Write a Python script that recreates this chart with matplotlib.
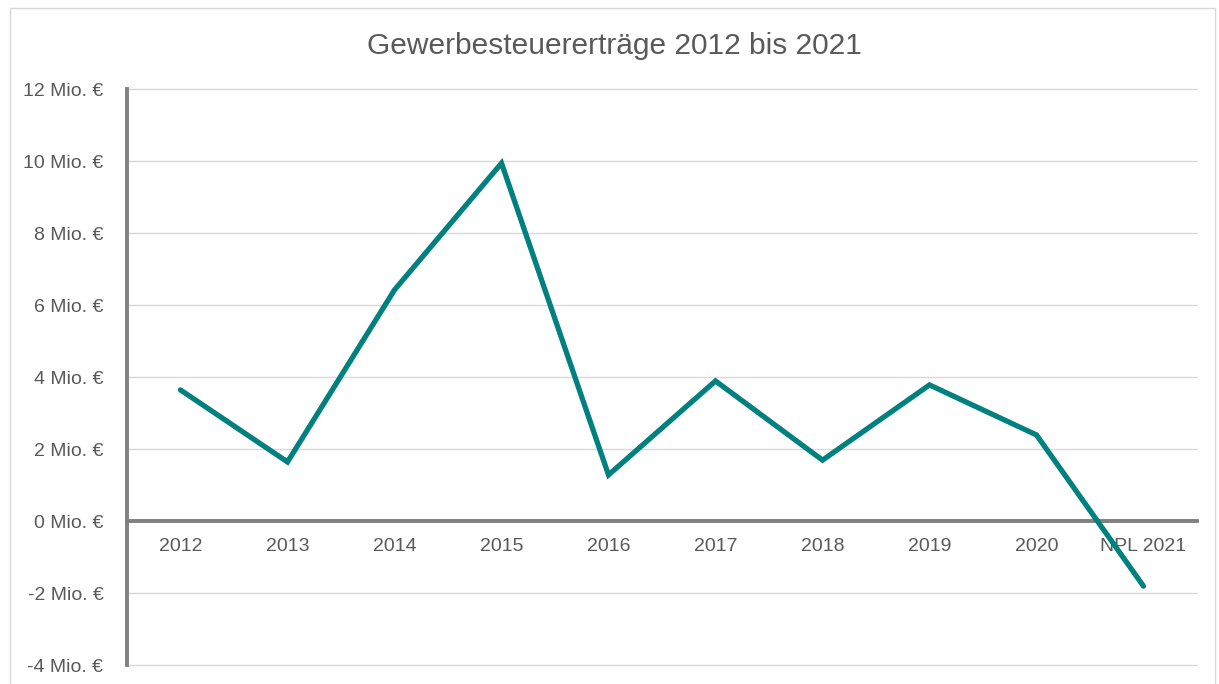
import matplotlib.pyplot as plt
from matplotlib.patches import Rectangle
from matplotlib.ticker import FuncFormatter

plt.rcParams['font.family'] = ['Liberation Sans', 'DejaVu Sans']

jahre = ['2012', '2013', '2014', '2015', '2016', '2017', '2018', '2019', '2020', 'NPL 2021']
ertraege = [3.64, 1.64, 6.42, 9.94, 1.28, 3.89, 1.69, 3.78, 2.39, -1.81]  # Mio. EUR
y_ticks = [-4, -2, 0, 2, 4, 6, 8, 10, 12]

text_col = '#595959'
axis_col = '#808080'

fig = plt.figure(figsize=(12.19, 6.84), dpi=100)
fig.patches.append(Rectangle((10 / 1219, -0.1), 1205 / 1219, 1.1 - 8 / 684,
                             transform=fig.transFigure, fill=False,
                             edgecolor='#d9d9d9', linewidth=1))

ax = fig.add_axes([127 / 1219, 1 - 665 / 684, 1070 / 1219, 576 / 684])
x = list(range(len(jahre)))
ax.plot(x, ertraege, color='#00807f', linewidth=3.8, solid_capstyle='round',
        solid_joinstyle='miter', zorder=3)

ax.set_xlim(-0.5, len(jahre) - 0.5)
ax.set_ylim(-4, 12)
ax.set_yticks(y_ticks)
ax.yaxis.set_major_formatter(FuncFormatter(lambda v, p: f"{v:g} Mio. €".replace('\u2212', '-')))
ax.grid(axis='y', color='#d9d9d9', linewidth=1)
for gl in ax.get_ygridlines():
    gl.set_clip_on(False)
ax.set_axisbelow(True)

ax.set_xticks(x)
ax.set_xticklabels(jahre)
ax.tick_params(axis='both', length=0, colors=text_col, labelsize=14)
ax.tick_params(axis='y', pad=17)
ax.tick_params(axis='x', pad=12.5)

for s in ['top', 'right']:
    ax.spines[s].set_visible(False)
ax.spines['bottom'].set_position(('data', 0))
ax.spines['bottom'].set_color(axis_col)
ax.spines['bottom'].set_linewidth(2.8)
ax.spines['bottom'].set_zorder(2)
ax.spines['left'].set_color(axis_col)
ax.spines['left'].set_linewidth(2.8)

fig.text(614 / 1219, 1 - 46 / 684, 'Gewerbesteuererträge 2012 bis 2021',
         ha='center', va='center', fontsize=21.5, color=text_col)

fig.savefig('out.png', dpi=100)
